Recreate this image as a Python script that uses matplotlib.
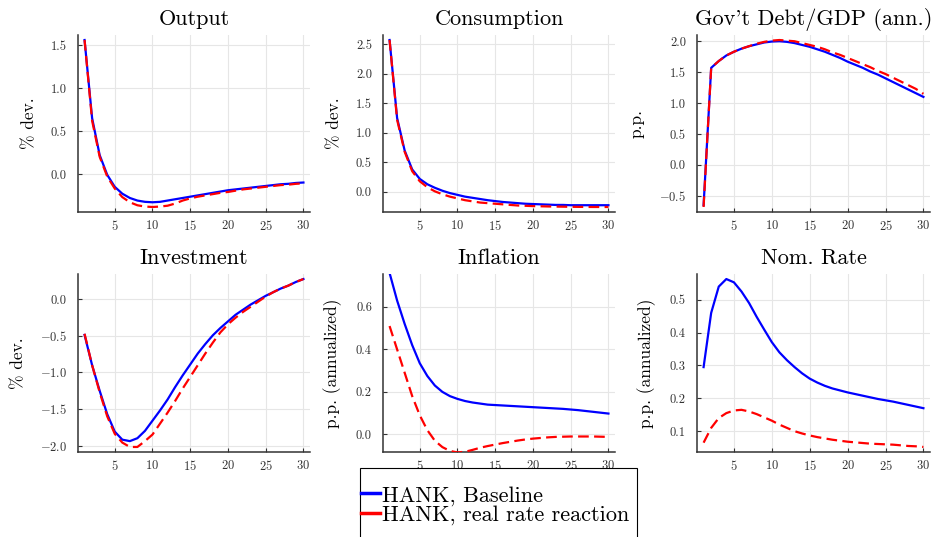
import matplotlib
matplotlib.use("Agg")
import matplotlib.pyplot as plt
from matplotlib.lines import Line2D
from matplotlib.patches import Rectangle
from matplotlib.ticker import FuncFormatter
import numpy as np

plt.rcParams.update({
    "font.family": "serif",
    "font.serif": ["cmr10", "DejaVu Serif"],
    "mathtext.fontset": "cm",
    "axes.formatter.use_mathtext": True,
    "axes.unicode_minus": True,
})

# horizon (quarters)
t = np.arange(1, 31)

# Output, % dev.
output_base = [1.56, 0.65, 0.22, -0.01, -0.15, -0.23, -0.28, -0.31, -0.325, -0.33,
               -0.325, -0.31, -0.295, -0.28, -0.265, -0.25, -0.235, -0.22, -0.205, -0.19,
               -0.18, -0.17, -0.16, -0.15, -0.14, -0.13, -0.12, -0.115, -0.105, -0.10]
output_real = [1.56, 0.62, 0.20, -0.03, -0.17, -0.27, -0.33, -0.365, -0.38, -0.385,
               -0.38, -0.37, -0.345, -0.31, -0.285, -0.265, -0.25, -0.235, -0.22, -0.21,
               -0.195, -0.18, -0.17, -0.16, -0.15, -0.14, -0.13, -0.125, -0.115, -0.11]

# Consumption, % dev.
cons_base = [2.57, 1.25, 0.70, 0.38, 0.22, 0.13, 0.07, 0.02, -0.02, -0.05,
             -0.08, -0.10, -0.12, -0.14, -0.155, -0.17, -0.18, -0.19, -0.20, -0.205,
             -0.21, -0.215, -0.22, -0.22, -0.225, -0.225, -0.225, -0.225, -0.225, -0.225]
cons_real = [2.57, 1.22, 0.68, 0.35, 0.18, 0.08, 0.01, -0.04, -0.08, -0.11,
             -0.14, -0.16, -0.18, -0.19, -0.20, -0.21, -0.22, -0.23, -0.235, -0.24,
             -0.243, -0.246, -0.248, -0.25, -0.252, -0.253, -0.254, -0.255, -0.255, -0.255]

# Gov't debt / GDP (ann.), p.p.
debt_base = [-0.65, 1.57, 1.68, 1.77, 1.83, 1.88, 1.92, 1.95, 1.98, 1.995,
             2.0, 1.99, 1.97, 1.94, 1.91, 1.87, 1.83, 1.78, 1.73, 1.67,
             1.62, 1.57, 1.51, 1.46, 1.40, 1.34, 1.28, 1.22, 1.16, 1.10]
debt_real = [-0.68, 1.57, 1.68, 1.77, 1.83, 1.88, 1.92, 1.96, 1.99, 2.01,
             2.02, 2.01, 2.0, 1.97, 1.94, 1.91, 1.87, 1.82, 1.78, 1.73,
             1.68, 1.63, 1.58, 1.52, 1.47, 1.41, 1.35, 1.29, 1.23, 1.15]

# Investment, % dev.
inv_base = [-0.485, -0.90, -1.25, -1.57, -1.81, -1.92, -1.94, -1.90, -1.80, -1.66,
            -1.52, -1.37, -1.20, -1.04, -0.89, -0.74, -0.61, -0.49, -0.39, -0.30,
            -0.21, -0.14, -0.07, -0.01, 0.05, 0.10, 0.15, 0.19, 0.24, 0.28]
inv_real = [-0.47, -0.90, -1.27, -1.60, -1.84, -1.96, -2.02, -2.02, -1.94, -1.85,
            -1.70, -1.55, -1.39, -1.22, -1.06, -0.90, -0.74, -0.59, -0.45, -0.34,
            -0.25, -0.17, -0.10, -0.03, 0.04, 0.10, 0.15, 0.19, 0.24, 0.28]

# Inflation, p.p. (annualized)
infl_base = [0.76, 0.63, 0.52, 0.42, 0.335, 0.275, 0.23, 0.20, 0.18, 0.167,
             0.157, 0.15, 0.145, 0.14, 0.138, 0.136, 0.134, 0.132, 0.13, 0.128,
             0.126, 0.124, 0.122, 0.12, 0.117, 0.114, 0.11, 0.106, 0.102, 0.098]
infl_real = [0.51, 0.40, 0.29, 0.18, 0.09, 0.02, -0.03, -0.06, -0.078, -0.085,
             -0.082, -0.073, -0.063, -0.055, -0.048, -0.041, -0.035, -0.029, -0.024, -0.02,
             -0.017, -0.014, -0.012, -0.011, -0.01, -0.01, -0.01, -0.01, -0.011, -0.012]

# Nominal rate, p.p. (annualized)
rate_base = [0.295, 0.46, 0.54, 0.563, 0.553, 0.525, 0.49, 0.448, 0.409, 0.371,
             0.34, 0.316, 0.295, 0.276, 0.26, 0.248, 0.238, 0.23, 0.224, 0.218,
             0.213, 0.208, 0.203, 0.198, 0.194, 0.19, 0.185, 0.18, 0.175, 0.17]
rate_real = [0.065, 0.11, 0.14, 0.155, 0.163, 0.165, 0.16, 0.152, 0.142, 0.132,
             0.12, 0.11, 0.10, 0.093, 0.087, 0.082, 0.078, 0.074, 0.071, 0.068,
             0.066, 0.064, 0.062, 0.061, 0.06, 0.059, 0.057, 0.055, 0.054, 0.052]

titles = ["Output", "Consumption", "Gov't Debt/GDP (ann.)",
          "Investment", "Inflation", "Nom. Rate"]
ylabels = ["% dev.", "% dev.", "p.p.",
           "% dev.", "p.p. (annualized)", "p.p. (annualized)"]
series = [(output_base, output_real), (cons_base, cons_real), (debt_base, debt_real),
          (inv_base, inv_real), (infl_base, infl_real), (rate_base, rate_real)]
yticks = [[0.0, 0.5, 1.0, 1.5],
          [0.0, 0.5, 1.0, 1.5, 2.0, 2.5],
          [-0.5, 0.0, 0.5, 1.0, 1.5, 2.0],
          [-2.0, -1.5, -1.0, -0.5, 0.0],
          [0.0, 0.2, 0.4, 0.6],
          [0.1, 0.2, 0.3, 0.4, 0.5]]
label_base = "HANK, Baseline"
label_real = "HANK, real rate reaction"

W, H = 936, 537
fig = plt.figure(figsize=(W / 100, H / 100), dpi=100)

# panel boxes in pixels
col_px = [(78, 310), (383, 615), (697, 930)]
row_px = [(35, 212), (274, 452)]


def fmt_tick(v, pos):
    return ("$-$" if v < -1e-9 else "") + "%.1f" % abs(v)


for k in range(6):
    r, c = divmod(k, 3)
    l, rt = col_px[c]
    tp, bt = row_px[r]
    ax = fig.add_axes([l / W, 1 - bt / H, (rt - l) / W, (bt - tp) / H])
    base, real = series[k]
    ax.plot(t, base, color="#0000ff", lw=1.6, zorder=3)
    ax.plot(t, real, color="#ff0000", lw=1.6, ls=(0, (4.8, 2.4)), zorder=3)
    ax.margins(x=0.03, y=0.03)
    if k == 4:
        ax.set_ylim(-0.083, 0.755)
    ax.set_xticks([5, 10, 15, 20, 25, 30])
    ax.set_yticks(yticks[k])
    ax.yaxis.set_major_formatter(FuncFormatter(fmt_tick))
    ax.set_title(titles[k], fontsize=16, pad=7)
    ax.set_ylabel(ylabels[k], fontsize=12.5, labelpad=10)
    ax.grid(True, color="#e6e6e6", lw=0.8)
    ax.set_axisbelow(True)
    for s in ["top", "right"]:
        ax.spines[s].set_visible(False)
    for s in ["left", "bottom"]:
        ax.spines[s].set_color("#333333")
        ax.spines[s].set_linewidth(1.1)
    ax.tick_params(direction="in", length=3, width=0.8, labelsize=9,
                   colors="#333333", labelcolor="#333333", pad=5)
    ax.tick_params(axis="y", pad=8)

# legend box (runs off the bottom edge like the original)
frame = Rectangle((360 / W, 1 - 548 / H), 277 / W, 80 / H, transform=fig.transFigure,
                  facecolor="white", edgecolor="black", lw=0.8, zorder=4)
fig.patches.append(frame)
handles = [Line2D([0], [0], color="#0000ff", lw=2.5),
           Line2D([0], [0], color="#ff0000", lw=2.5)]
leg = fig.legend(handles, [label_base, label_real], loc="center left",
                 bbox_to_anchor=(361 / W, 1 - 505.5 / H), fontsize=16,
                 frameon=False, handlelength=0.85, handletextpad=0.1,
                 borderpad=0, labelspacing=0.0, borderaxespad=0)
leg.set_zorder(5)

fig.savefig("out.png", dpi=100)
